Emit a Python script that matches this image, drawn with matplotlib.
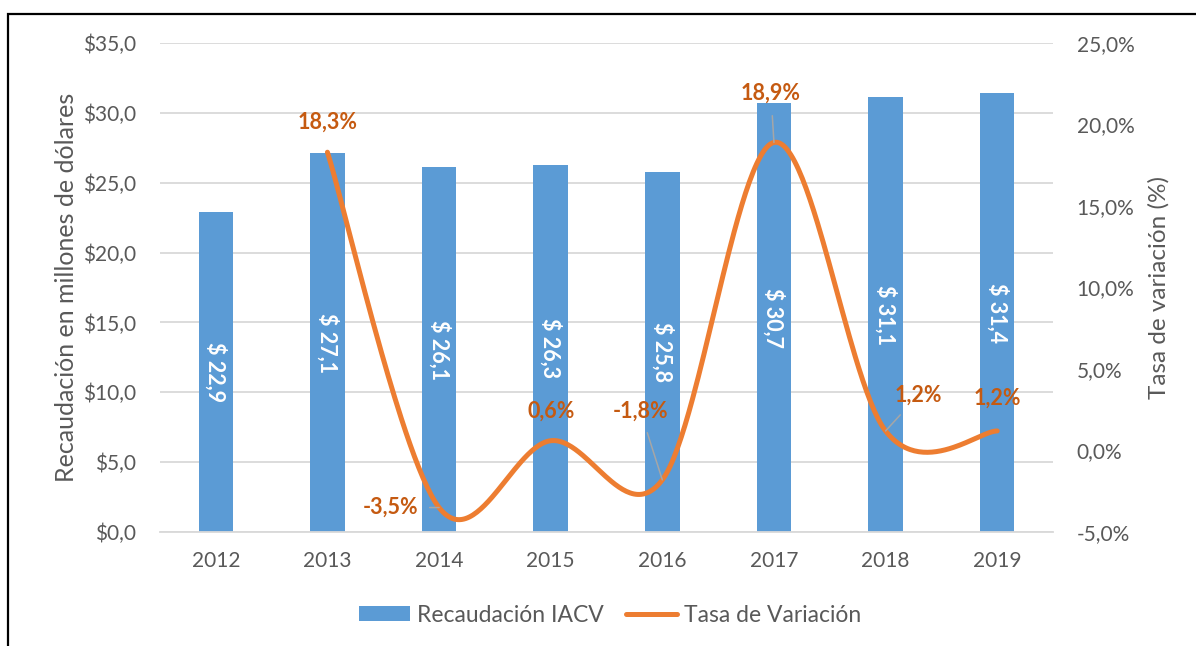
import numpy as np
import matplotlib
matplotlib.use("Agg")
import matplotlib.pyplot as plt
from matplotlib.patches import Rectangle, Patch
from matplotlib.lines import Line2D

# ---- data ----
years = ["2012", "2013", "2014", "2015", "2016", "2017", "2018", "2019"]
recaudacion = [22.9, 27.1, 26.1, 26.3, 25.8, 30.7, 31.1, 31.4]
tasa_years = ["2013", "2014", "2015", "2016", "2017", "2018", "2019"]
tasa = [18.3, -3.5, 0.6, -1.8, 18.9, 1.2, 1.2]
left_ticks = [0, 5, 10, 15, 20, 25, 30, 35]
right_ticks = [-5, 0, 5, 10, 15, 20, 25]

# label offsets (pixels) and leader-line flags
label_offsets = [(0, 30), (-49, 0), (0, 30), (-22, 69), (-3, 49), (33, 36), (0, 33)]
leader = [False, True, False, True, True, True, False]

BLUE = "#5B9BD5"
ORANGE = "#ED7D31"
LBL = "#C55A11"
GRAY = "#595959"
GRID = "#D9D9D9"

plt.rcParams['font.family'] = ['Lato', 'DejaVu Sans']

W, H = 1196, 646
fig = plt.figure(figsize=(W / 100, H / 100), dpi=100)
ax = fig.add_axes([160 / W, 1 - 532 / H, (1053 - 160) / W, (532 - 43) / H])
ax2 = ax.twinx()

x = np.arange(len(years))
bars = ax.bar(x, recaudacion, width=0.31, color=BLUE, zorder=2)
for xi, v in zip(x, recaudacion):
    ax.text(xi, v / 2, ("$ %.1f" % v).replace(".", ","), rotation=270,
            ha="center", va="center", color="white", fontsize=15.5,
            fontweight="bold", zorder=3)

ax.set_xlim(-0.5, len(years) - 0.5)
ax.set_ylim(0, 35)
ax.set_yticks(left_ticks)
ax.set_yticklabels([("$%.1f" % v).replace(".", ",") for v in left_ticks])
ax.set_xticks(x)
ax.set_xticklabels(years)
ax.set_axisbelow(True)
ax.grid(axis="y", color=GRID, lw=1.3)
for s in ["top", "left", "right"]:
    ax.spines[s].set_visible(False)
ax.spines["bottom"].set_color(GRID)
ax.spines["bottom"].set_linewidth(1.3)
ax.tick_params(axis="both", length=0, labelsize=15, labelcolor=GRAY)
ax.tick_params(axis="y", pad=17)
ax.tick_params(axis="x", pad=14)
ax.set_ylabel("Recaudación en millones de dólares", fontsize=18, color=GRAY, labelpad=4)

# smoothed line (Catmull-Rom style Bezier as in spreadsheet smoothing)
tx = np.array([years.index(y) for y in tasa_years], dtype=float)
ty = np.array(tasa, dtype=float)
n = len(tx)
px, py = [], []
for i in range(n - 1):
    i0 = max(i - 1, 0)
    i3 = min(i + 2, n - 1)
    p0 = np.array([tx[i], ty[i]])
    p1 = np.array([tx[i + 1], ty[i + 1]])
    c1 = p0 + (p1 - np.array([tx[i0], ty[i0]])) / 6.0
    c2 = p1 - (np.array([tx[i3], ty[i3]]) - p0) / 6.0
    t = np.linspace(0, 1, 60)[:, None]
    b = (1 - t) ** 3 * p0 + 3 * (1 - t) ** 2 * t * c1 + 3 * (1 - t) * t ** 2 * c2 + t ** 3 * p1
    px.extend(b[:, 0]); py.extend(b[:, 1])
ax2.plot(px, py, color=ORANGE, lw=3.6, solid_capstyle="round", zorder=4)

for xi, yi, v, off, ld in zip(tx, ty, tasa, label_offsets, leader):
    kw = {}
    if ld:
        kw["arrowprops"] = dict(arrowstyle="-", color="#A6A6A6", lw=1.1,
                                shrinkA=6.5, shrinkB=0)
    ax2.annotate(("%.1f%%" % v).replace(".", ","), (xi, yi), xytext=off,
                 textcoords="offset pixels", ha="center", va="center",
                 color=LBL, fontsize=15.5, fontweight="bold", zorder=5, **kw)

ax2.set_ylim(-5, 25)
ax2.set_yticks(right_ticks)
ax2.set_yticklabels([("%.1f%%" % v).replace(".", ",") for v in right_ticks])
for s in ["top", "left", "right", "bottom"]:
    ax2.spines[s].set_visible(False)
ax2.tick_params(axis="y", length=0, labelsize=15, labelcolor=GRAY, pad=17)
ax2.set_ylabel("Tasa de variación (%)", fontsize=17.5, color=GRAY, labelpad=10)

handles = [Patch(facecolor=BLUE, edgecolor="none"),
           Line2D([0], [0], color=ORANGE, lw=3.6, solid_capstyle="round")]
fig.legend(handles, ["Recaudación IACV", "Tasa de Variación"], loc="center",
           bbox_to_anchor=(610 / W, 1 - 615 / H), ncol=2, frameon=False,
           fontsize=16.5, labelcolor=GRAY, handlelength=2.2, handleheight=0.65,
           handletextpad=0.3, columnspacing=1.0)

fig.patches.append(Rectangle((8 / W, -0.2), 1.5, 1.2 - 14 / H, transform=fig.transFigure,
                             fill=False, edgecolor="black", lw=1.6, clip_on=False))

fig.savefig("out.png", dpi=100)
